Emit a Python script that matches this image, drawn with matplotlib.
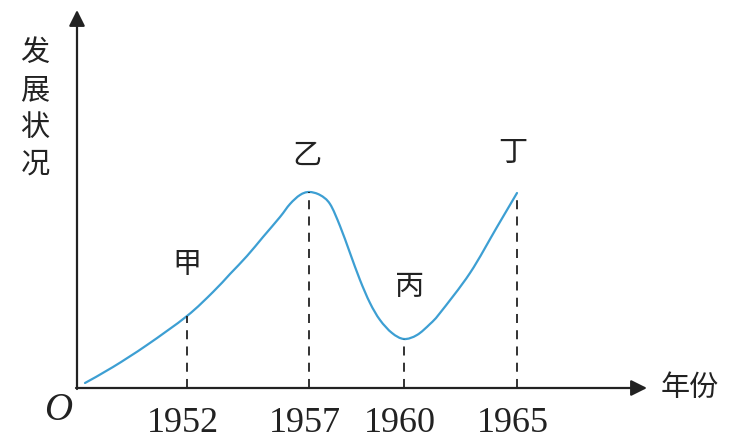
import numpy as np
import matplotlib
matplotlib.use("Agg")
import matplotlib.pyplot as plt
from matplotlib.path import Path
from matplotlib.patches import PathPatch

plt.rcParams['font.family'] = ['Noto Sans CJK SC', 'DejaVu Sans']

# schematic positions of the years along the x axis, and their labels
tick_pos = [11.0, 23.2, 32.7, 44.0]
tick_labels = ["1952", "1957", "1960", "1965"]
stage_labels = ["甲", "乙", "丙", "丁"]

# curve (x position, development level)
curve_x = [0.8, 3.6, 7.0, 11.0, 13.6, 15.3, 17.0, 18.6, 20.3, 21.3, 22.3,
           23.2, 24.3, 25.3, 26.3, 27.3, 28.3, 29.3, 30.3, 31.5, 32.7, 34.0,
           35.3, 36.3, 39.3, 42.0, 44.0]
curve_y = [0.5, 2.1, 4.3, 7.2, 9.6, 11.4, 13.2, 15.1, 17.1, 18.4, 19.3,
           19.6, 19.3, 18.4, 16.2, 13.5, 10.8, 8.5, 6.8, 5.5, 4.9, 5.3,
           6.4, 7.5, 11.5, 16.1, 19.5]


def smooth_path(xs, ys):
    # cubic bezier through the points (catmull-rom tangents)
    p = np.column_stack([xs, ys])
    verts = [p[0]]
    codes = [Path.MOVETO]
    for i in range(len(p) - 1):
        p0 = p[i - 1] if i > 0 else p[i]
        p3 = p[i + 2] if i + 2 < len(p) else p[i + 1]
        c1 = p[i] + (p[i + 1] - p0) / 6
        c2 = p[i + 1] - (p3 - p[i]) / 6
        verts += [c1, c2, p[i + 1]]
        codes += [Path.CURVE4] * 3
    return Path(verts, codes)


fig = plt.figure(figsize=(7.41, 4.42), dpi=100)
ax = fig.add_axes([0, 0, 1, 1])
ax.set_xlim(-7.7, 66.4)
ax.set_ylim(-5.4, 38.8)
ax.axis("off")

# axes with arrow heads
arrow = dict(arrowstyle="-|>", lw=1.6, color="#222222", mutation_scale=24,
             shrinkA=0, shrinkB=0)
ax.annotate("", xy=(57.0, 0), xytext=(-0.1, 0), arrowprops=arrow)
ax.annotate("", xy=(0, 37.8), xytext=(0, -0.1), arrowprops=arrow)

# the curve
ax.add_patch(PathPatch(smooth_path(curve_x, curve_y), fill=False,
                       edgecolor="#3d9fd3", lw=1.6, capstyle="round"))

# dashed drop lines up to the curve
tops = np.interp(tick_pos, curve_x, curve_y)
for t, top in zip(tick_pos, tops):
    ax.plot([t, t], [0, top], color="#222222", lw=1.3, ls=(0, (5, 4)))

# year labels under the axis
for t, lab in zip(tick_pos, tick_labels):
    ax.text(t - 0.4, -3.5, lab, ha="center", va="center", fontsize=26,
            family="Liberation Serif", color="#222222")

# stage labels
offsets = [(0, 5.1), (-0.2, 3.6), (0.6, 5.2), (-0.4, 4.0)]
for t, top, lab, (dx, dy) in zip(tick_pos, tops, stage_labels, offsets):
    ax.text(t + dx, top + dy, lab, ha="center", va="center", fontsize=21,
            color="#222222")

ax.text(-1.9, -2.3, "O", ha="center", va="center", fontsize=28,
        family="Liberation Serif", style="italic", color="#222222")
ax.text(61.3, 0, "年份", ha="center", va="center", fontsize=21,
        color="#222222")
ax.text(-4.2, 27.9, "\n".join("发展状况"), ha="center", va="center",
        fontsize=21, linespacing=1.32, color="#222222")

fig.savefig("out.png", dpi=100)
